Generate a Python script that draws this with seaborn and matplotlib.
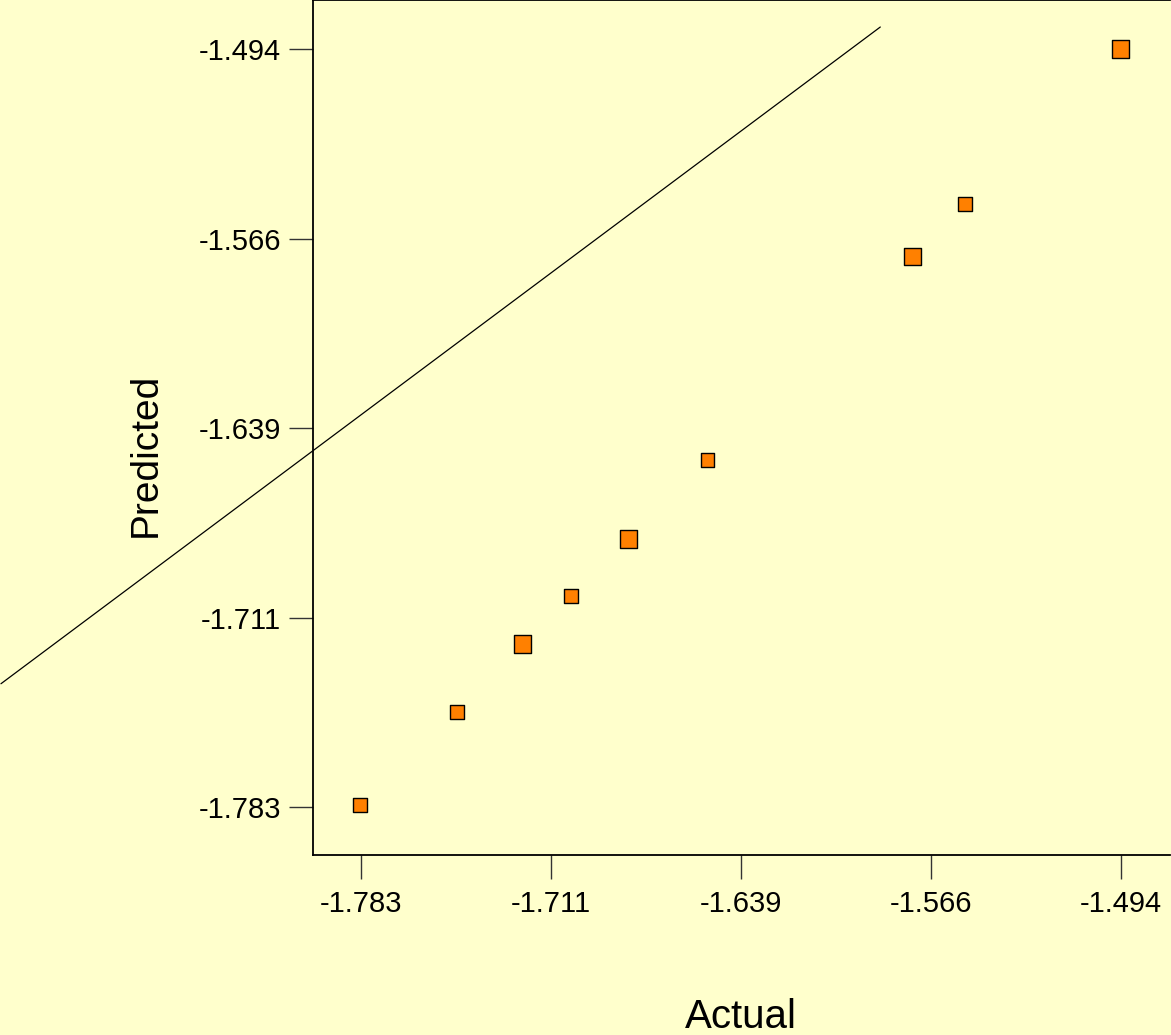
import matplotlib
matplotlib.use("Agg")
import matplotlib.pyplot as plt
import seaborn as sns
import pandas as pd

# Observed vs. model-predicted response for each run
actual = [-1.7834, -1.7465, -1.7217, -1.7031, -1.6814, -1.6513, -1.5733, -1.5532, -1.4942]
predicted = [-1.7822, -1.7468, -1.7208, -1.7025, -1.6808, -1.6506, -1.5732, -1.5530, -1.4940]
point_group = ["single", "single", "replicate", "single", "replicate",
               "single", "replicate", "single", "replicate"]

# Reference line endpoints
ref_x = [-1.920, -1.5855]
ref_y = [-1.736, -1.4856]

tick_values = [-1.783, -1.71075, -1.6385, -1.56625, -1.494]
tick_labels = ["-1.783", "-1.711", "-1.639", "-1.566", "-1.494"]

bg = "#FFFFCC"
sns.set_theme(style="white", rc={"axes.facecolor": bg, "figure.facecolor": bg})
plt.rcParams["font.family"] = ["Liberation Sans", "DejaVu Sans"]

df = pd.DataFrame({"Actual": actual, "Predicted": predicted, "group": point_group})

fig = plt.figure(figsize=(11.71, 10.35), dpi=100)
ax = fig.add_axes([313 / 1171, 1 - 855 / 1035, 857 / 1171, 855 / 1035])

ax.plot(ref_x, ref_y, color="black", lw=0.9, clip_on=False, zorder=2)

sns.scatterplot(data=df, x="Actual", y="Predicted", size="group",
                sizes={"single": 95, "replicate": 155}, marker="s",
                color="#FF8000", edgecolor="black", linewidth=1.0,
                legend=False, ax=ax, zorder=3)

ax.set_xlim(-1.8013, -1.4753)
ax.set_ylim(-1.8013, -1.4753)
ax.set_xticks(tick_values)
ax.set_xticklabels(tick_labels)
ax.set_yticks(tick_values)
ax.set_yticklabels(tick_labels)

ax.tick_params(axis="both", direction="out", length=17, width=1.0,
               color="#333333", labelsize=21, labelcolor="black")
ax.tick_params(axis="x", pad=8)
ax.tick_params(axis="y", pad=6)
ax.xaxis.set_ticks_position("bottom")
ax.yaxis.set_ticks_position("left")

for side in ["left", "top", "bottom"]:
    ax.spines[side].set_color("black")
    ax.spines[side].set_linewidth(1.3)
ax.spines["right"].set_visible(False)

ax.set_xlabel("")
ax.set_ylabel("")
fig.text(741 / 1171, 1 - 1017 / 1035, "Actual", ha="center", va="center",
         fontsize=29, color="black")
fig.text(146 / 1171, 1 - 455 / 1035, "Predicted", ha="center", va="center",
         rotation=90, fontsize=28, color="black")

fig.savefig("out.png", dpi=100, facecolor=bg)
